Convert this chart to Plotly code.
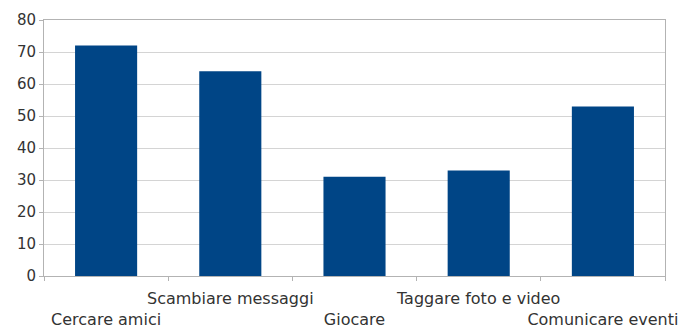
import plotly.graph_objects as go

# Activities and their values
categories = ["Cercare amici", "Scambiare messaggi", "Giocare", "Taggare foto e video", "Comunicare eventi"]
values = [72, 64, 31, 33, 53]
y_ticks = [0, 10, 20, 30, 40, 50, 60, 70, 80]

# Alternate labels between two rows so long names do not overlap
tick_text = [("<br>" + c) if i % 2 == 0 else c for i, c in enumerate(categories)]

fig = go.Figure(
    go.Bar(
        x=categories,
        y=values,
        marker=dict(color="#004586", line=dict(width=0)),
        width=0.5,
    )
)

fig.update_layout(
    width=681,
    height=329,
    margin=dict(l=44, r=16, t=20, b=53),
    paper_bgcolor="white",
    plot_bgcolor="white",
    font=dict(family="DejaVu Sans, sans-serif", size=15, color="#333333"),
    showlegend=False,
)

fig.update_xaxes(
    tickmode="array",
    tickvals=categories,
    ticktext=tick_text,
    tickangle=0,
    automargin=False,
    tickson="boundaries",
    ticks="outside",
    ticklen=4,
    tickcolor="#b3b3b3",
    ticklabelstandoff=8,
    showgrid=False,
    showline=True,
    linecolor="#b3b3b3",
    linewidth=1,
    mirror=True,
    tickfont=dict(size=16, color="#333333"),
)

fig.update_yaxes(
    range=[0, 80],
    tickvals=y_ticks,
    automargin=False,
    ticks="outside",
    ticklen=4,
    tickcolor="#b3b3b3",
    showgrid=True,
    gridcolor="#d4d4d4",
    gridwidth=1,
    showline=True,
    linecolor="#b3b3b3",
    mirror=True,
    zeroline=False,
    tickfont=dict(size=15, color="#333333"),
)

fig.write_html("out.html")
